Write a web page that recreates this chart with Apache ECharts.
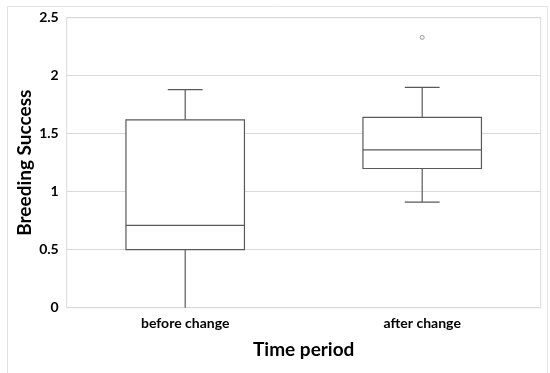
<!DOCTYPE html>
<html>
<head>
<meta charset="utf-8">
<script src="https://cdn.jsdelivr.net/npm/echarts@6/dist/echarts.min.js"></script>
<style>html,body{margin:0;padding:0;background:#fff}#c{width:550px;height:373px}</style>
</head>
<body>
<div id="c"></div>
<script>
const categories = ['before change', 'after change'];
// [min, Q1, median, Q3, max]
const boxValues = [
  [0.00, 0.50, 0.71, 1.62, 1.88],
  [0.91, 1.20, 1.36, 1.64, 1.90]
];
const outliers = [[1, 2.33]];
const yTicks = [0, 0.5, 1, 1.5, 2, 2.5];

const FONT = 'Lato';
const chart = echarts.init(document.getElementById('c'), null, {renderer: 'canvas'});
const boxData = boxValues.map((v, i) => [i].concat(v));
const strokeColor = '#595959';

chart.setOption({
  animation: false,
  backgroundColor: '#fff',
  graphic: [{
    type: 'rect', left: 5, top: 4, shape: {width: 540, height: 367},
    style: {fill: 'none', stroke: '#e3e3e3', lineWidth: 1}, silent: true, z: -1
  }],
  grid: {left: 66.7, right: 9.3, top: 17.7, bottom: 65.3, show: true, borderColor: '#d9d9d9', borderWidth: 1},
  xAxis: {
    type: 'category', data: categories, boundaryGap: true,
    name: 'Time period', nameLocation: 'middle', nameGap: 33, nameMoveOverlap: false,
    nameTextStyle: {fontFamily: FONT, fontWeight: 'bold', fontSize: 19, color: '#000'},
    axisLine: {show: false}, axisTick: {show: false},
    axisLabel: {fontFamily: FONT, fontWeight: 'bold', fontSize: 14, color: '#000', margin: 9},
    splitLine: {show: false}
  },
  yAxis: {
    type: 'value', min: 0, max: 2.5, interval: 0.5,
    name: 'Breeding Success', nameLocation: 'middle', nameGap: 32, nameMoveOverlap: false,
    nameTextStyle: {fontFamily: FONT, fontWeight: 'bold', fontSize: 19, color: '#000'},
    axisLine: {show: false}, axisTick: {show: false},
    axisLabel: {fontFamily: FONT, fontWeight: 'bold', fontSize: 14, color: '#000', margin: 8,
      formatter: v => String(v)},
    splitLine: {show: true, lineStyle: {color: '#d9d9d9', width: 1}}
  },
  series: [{
    type: 'custom',
    data: boxData,
    encode: {x: 0, y: [1, 2, 3, 4, 5]},
    renderItem: function (params, api) {
      const x = api.value(0);
      const band = api.size([1, 0])[0];
      const bw = band * 0.5;
      const cw = band * 0.147;
      const pMin = api.coord([x, api.value(1)]);
      const pQ1 = api.coord([x, api.value(2)]);
      const pMed = api.coord([x, api.value(3)]);
      const pQ3 = api.coord([x, api.value(4)]);
      const pMax = api.coord([x, api.value(5)]);
      const cx = pMed[0];
      const st = {stroke: strokeColor, lineWidth: 1.2, fill: 'none'};
      return {
        type: 'group',
        children: [
          {type: 'rect', shape: {x: cx - bw / 2, y: pQ3[1], width: bw, height: pQ1[1] - pQ3[1]}, style: {stroke: strokeColor, lineWidth: 1.2, fill: '#fff'}},
          {type: 'line', shape: {x1: cx - bw / 2, y1: pMed[1], x2: cx + bw / 2, y2: pMed[1]}, style: st},
          {type: 'line', shape: {x1: cx, y1: pQ3[1], x2: cx, y2: pMax[1]}, style: st},
          {type: 'line', shape: {x1: cx, y1: pQ1[1], x2: cx, y2: pMin[1]}, style: st},
          {type: 'line', shape: {x1: cx - cw / 2, y1: pMax[1], x2: cx + cw / 2, y2: pMax[1]}, style: st},
          {type: 'line', shape: {x1: cx - cw / 2, y1: pMin[1], x2: cx + cw / 2, y2: pMin[1]}, style: st, invisible: api.value(1) === 0}
        ]
      };
    }
  }, {
    type: 'scatter',
    data: outliers,
    symbol: 'circle', symbolSize: 4,
    itemStyle: {color: '#fff', borderColor: '#808080', borderWidth: 1}
  }]
});
</script>
</body>
</html>
